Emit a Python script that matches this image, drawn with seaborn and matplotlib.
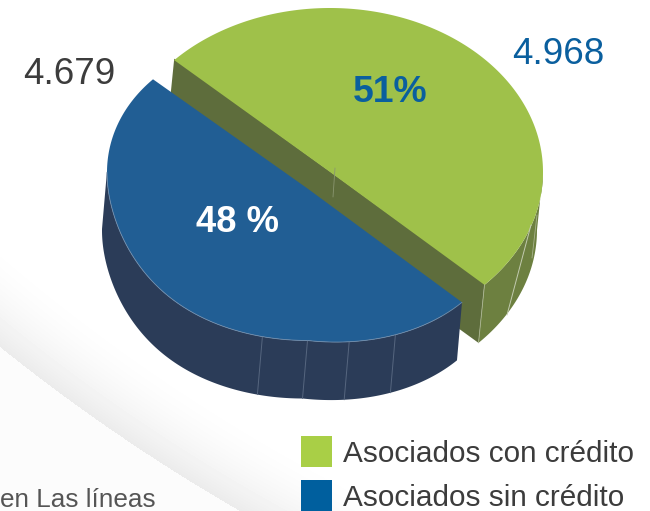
import numpy as np
import seaborn as sns
import matplotlib
matplotlib.use("Agg")
import matplotlib.pyplot as plt
from matplotlib.patches import Rectangle

# values
categories = ["Asociados con crédito", "Asociados sin crédito"]
values = [4968, 4679]
value_labels = ["4.968", "4.679"]
share_labels = ["51%", "48 %"]
start_deg = [223.0, 39.6]
sweep_deg = [180.5, 180.0]
seams_blue = [64, 78, 90, 103]

top_colors = sns.color_palette(["#9fc14a", "#215e94"])
wall_colors = sns.color_palette(["#6d8040", "#2b3c58"])
legend_colors = sns.color_palette(["#a9cf46", "#005f9e"])
cut_color = "#5e6d3c"
TEXT = "#3c3c3c"
BLUE_TEXT = "#0a5f9e"

# pie geometry in pixels: centre, radii, shear for the perspective
green_geo = dict(cx=330, cy=172, a=213, b=164, s_right=0, s_left=0)
blue_geo = dict(cx=307.5, cy=188.5, a=200.5, b=152, s_right=22, s_left=16)
green_drop = np.array([-6, 58])
blue_drop = np.array([-5, 58])


def rim(geo, deg):
    t = np.radians(deg)
    c, s = np.cos(t), np.sin(t)
    x = geo["cx"] + geo["a"] * c
    # the disc is not a true ellipse: the left side leans up, the right side down
    lean = np.where(c > 0, geo["s_right"] * c,
                    np.where(s > 0, -geo["s_left"] * np.abs(c) ** 6, -geo["s_left"] * np.abs(c)))
    return np.column_stack([x, geo["cy"] + geo["b"] * s + lean])


def slice_top(geo, start, sweep):
    return np.vstack([rim(geo, np.linspace(start, start + sweep, 200)), [[geo["cx"], geo["cy"]]]])


def wall(geo, start, sweep, drop):
    arc = rim(geo, np.linspace(start, start + sweep, 200))
    return np.vstack([arc, (arc + drop)[::-1]])


sns.set_theme(style="white")
plt.rcParams["font.family"] = ["Liberation Sans", "DejaVu Sans"]

fig = plt.figure(figsize=(6.5, 5.11), dpi=100)
ax = fig.add_axes([0, 0, 1, 1])

# background swoosh
xx, yy = np.meshgrid(np.arange(650) + 0.5, np.arange(511) + 0.5)
d = 1887 - np.hypot(xx - 1182, yy + 1124)
shade = np.where(d > 0, 255 - 20 * np.clip(1 - d / 90, 0, 1) ** 2, 252)
ax.imshow(shade, cmap="gray", vmin=0, vmax=255, extent=(0, 650, 511, 0), zorder=0)

# green slice
g_corners = rim(green_geo, np.array([start_deg[0], start_deg[0] + sweep_deg[0]]))
ax.fill(*wall(green_geo, 0, 43.5, green_drop).T, color=wall_colors[0], lw=0, zorder=1)
# cut face starts a pixel under the top so no light seam shows
cut = np.vstack([g_corners - [0, 1.5], g_corners[::-1] + green_drop])
ax.fill(*cut.T, color=cut_color, lw=0, zorder=2)
ax.fill(*slice_top(green_geo, start_deg[0], sweep_deg[0]).T, color=top_colors[0], lw=0, zorder=3)

# seams on the green wall
tip = g_corners[1]
ax.plot([tip[0], tip[0] + green_drop[0]], [tip[1], tip[1] + green_drop[1]], color="#a9b48f", lw=0.6, zorder=4)
ax.plot([531, 507], [225, 315], color="#c3cbb0", lw=0.7, zorder=4)
ax.plot([537, 532], [215, 258], color="#a9b48f", lw=0.6, zorder=4)
ax.plot([335, 333], [168, 197], color="#8a9670", lw=0.6, zorder=4)

# blue slice
ax.fill(*wall(blue_geo, start_deg[1], sweep_deg[1] - 39, blue_drop).T, color=wall_colors[1], lw=0, zorder=5)
for deg in seams_blue:
    p = rim(blue_geo, np.array([deg]))[0]
    ax.plot([p[0], p[0] + blue_drop[0]], [p[1], p[1] + blue_drop[1]], color="#56667f", lw=0.7, zorder=6)
ax.fill(*slice_top(blue_geo, start_deg[1], sweep_deg[1]).T, color=top_colors[1], lw=0, zorder=7)
ax.plot(*rim(blue_geo, np.linspace(start_deg[1], 180, 150)).T, color="#6f8cab", lw=0.6, zorder=8)

# labels
ax.text(512, 55, value_labels[0], color=BLUE_TEXT, fontsize=26.5, ha="left", va="center", zorder=9)
ax.text(23, 74, value_labels[1], color=TEXT, fontsize=26.5, ha="left", va="center", zorder=9)
ax.text(390, 92, share_labels[0], color=BLUE_TEXT, fontsize=26.8, fontweight="bold", ha="center", va="center", zorder=9)
ax.text(237, 222, share_labels[1], color="white", fontsize=26.2, fontweight="bold", ha="center", va="center", zorder=9)
ax.text(0, 507, "en Las líneas", color="#555555", fontsize=18.8, ha="left", va="baseline", zorder=9)

# legend
for y, name, col in zip([436, 480], categories, legend_colors):
    ax.add_patch(Rectangle((301, y), 31, 31, color=col, lw=0, zorder=9))
    ax.text(343, y + 18, name, color=TEXT, fontsize=21.45, ha="left", va="center", zorder=9)

ax.set_xlim(0, 650)
ax.set_ylim(511, 0)
ax.set_aspect("auto")
ax.axis("off")
sns.despine(ax=ax, left=True, bottom=True)

fig.savefig("out.png", dpi=100)
